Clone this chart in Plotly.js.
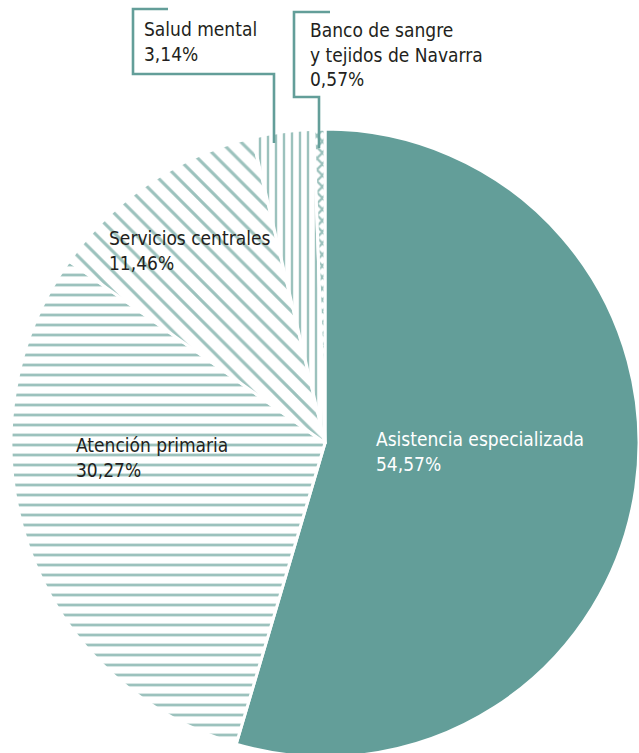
<!DOCTYPE html>
<html>
<head>
<meta charset="utf-8">
<script src="https://cdn.plot.ly/plotly-3.0.1.min.js"></script>
<style>
html,body{margin:0;padding:0;overflow:hidden;background:#fff;}
#chart{width:639px;height:760px;}
</style>
</head>
<body>
<div id="chart"></div>
<script>
// ---- data ----
const categories = ['Asistencia especializada', 'Atención primaria', 'Servicios centrales', 'Salud mental', 'Banco de sangre y tejidos de Navarra'];
const values = [54.57, 30.27, 11.46, 3.14, 0.57];
const labelLines = [
  ['Asistencia especializada'],
  ['Atención primaria'],
  ['Servicios centrales'],
  ['Salud mental'],
  ['Banco de sangre', 'y tejidos de Navarra']
];

// ---- styling ----
const W = 639, H = 760;
const TEAL = '#639e99';
const LIGHT = '#9cc2bd';
const FONT = 'DejaVu Sans Condensed, Liberation Sans Narrow, Roboto, sans-serif';
const FS = 19;
// label placement (pixel: left x, block centre y, colour)
const labelPos = [
  {x: 375, y: 452, color: '#ffffff'},
  {x: 75,  y: 457, color: '#231f20'},
  {x: 108, y: 250, color: '#231f20'},
  {x: 143, y: 41, color: '#231f20'},
  {x: 309, y: 54.5, color: '#231f20'}
];

const fmt = v => v.toFixed(2).replace('.', ',') + '%';
const px = x => x / W;
const py = y => 1 - y / H;

const annotations = categories.map((c, i) => {
  const lines = labelLines[i].concat([fmt(values[i])]);
  const p = labelPos[i];
  return {
    text: lines.join('<br>'), showarrow: false, xref: 'paper', yref: 'paper',
    x: px(p.x), y: py(p.y), xanchor: 'left', yanchor: 'middle',
    align: 'left', borderpad: 0,
    font: {family: FONT, size: FS, color: p.color}
  };
});

function pathPx(pts) {
  return pts.map((p, i) => (i ? 'L' : 'M') + px(p[0]).toFixed(5) + ',' + py(p[1]).toFixed(5)).join(' ');
}
const leaderStyle = {color: TEAL, width: 2.6};
const shapes = [
  {type: 'path', xref: 'paper', yref: 'paper', line: leaderStyle,
   path: pathPx([[168, 9], [133, 9], [133, 74], [274, 74], [274, 143]])},
  {type: 'path', xref: 'paper', yref: 'paper', line: leaderStyle,
   path: pathPx([[330, 12], [294, 12], [294, 97], [319, 97], [319, 148]])}
];

const trace = {
  type: 'pie',
  labels: categories,
  values: values,
  sort: false,
  direction: 'clockwise',
  rotation: 0,
  textinfo: 'none',
  hoverinfo: 'none',
  domain: {x: [11 / W, 1], y: [3 / H, 631 / H]},
  marker: {
    colors: [TEAL, '#ffffff', '#ffffff', '#ffffff', '#ffffff'],
    line: {color: '#ffffff', width: 3},
    pattern: {
      shape: ['', '-', '\\', '|', 'x'],
      fgcolor: LIGHT,
      bgcolor: '#ffffff',
      size: [10, 10, 14, 8, 8],
      solidity: [0.3, 0.28, 0.22, 0.3, 0.5],
      fillmode: 'replace'
    }
  }
};

Plotly.newPlot('chart', [trace], {
  width: W, height: H,
  margin: {l: 0, r: 0, t: 0, b: 0},
  showlegend: false,
  paper_bgcolor: '#ffffff',
  annotations: annotations,
  shapes: shapes
}, {staticPlot: true});
</script>
</body>
</html>
